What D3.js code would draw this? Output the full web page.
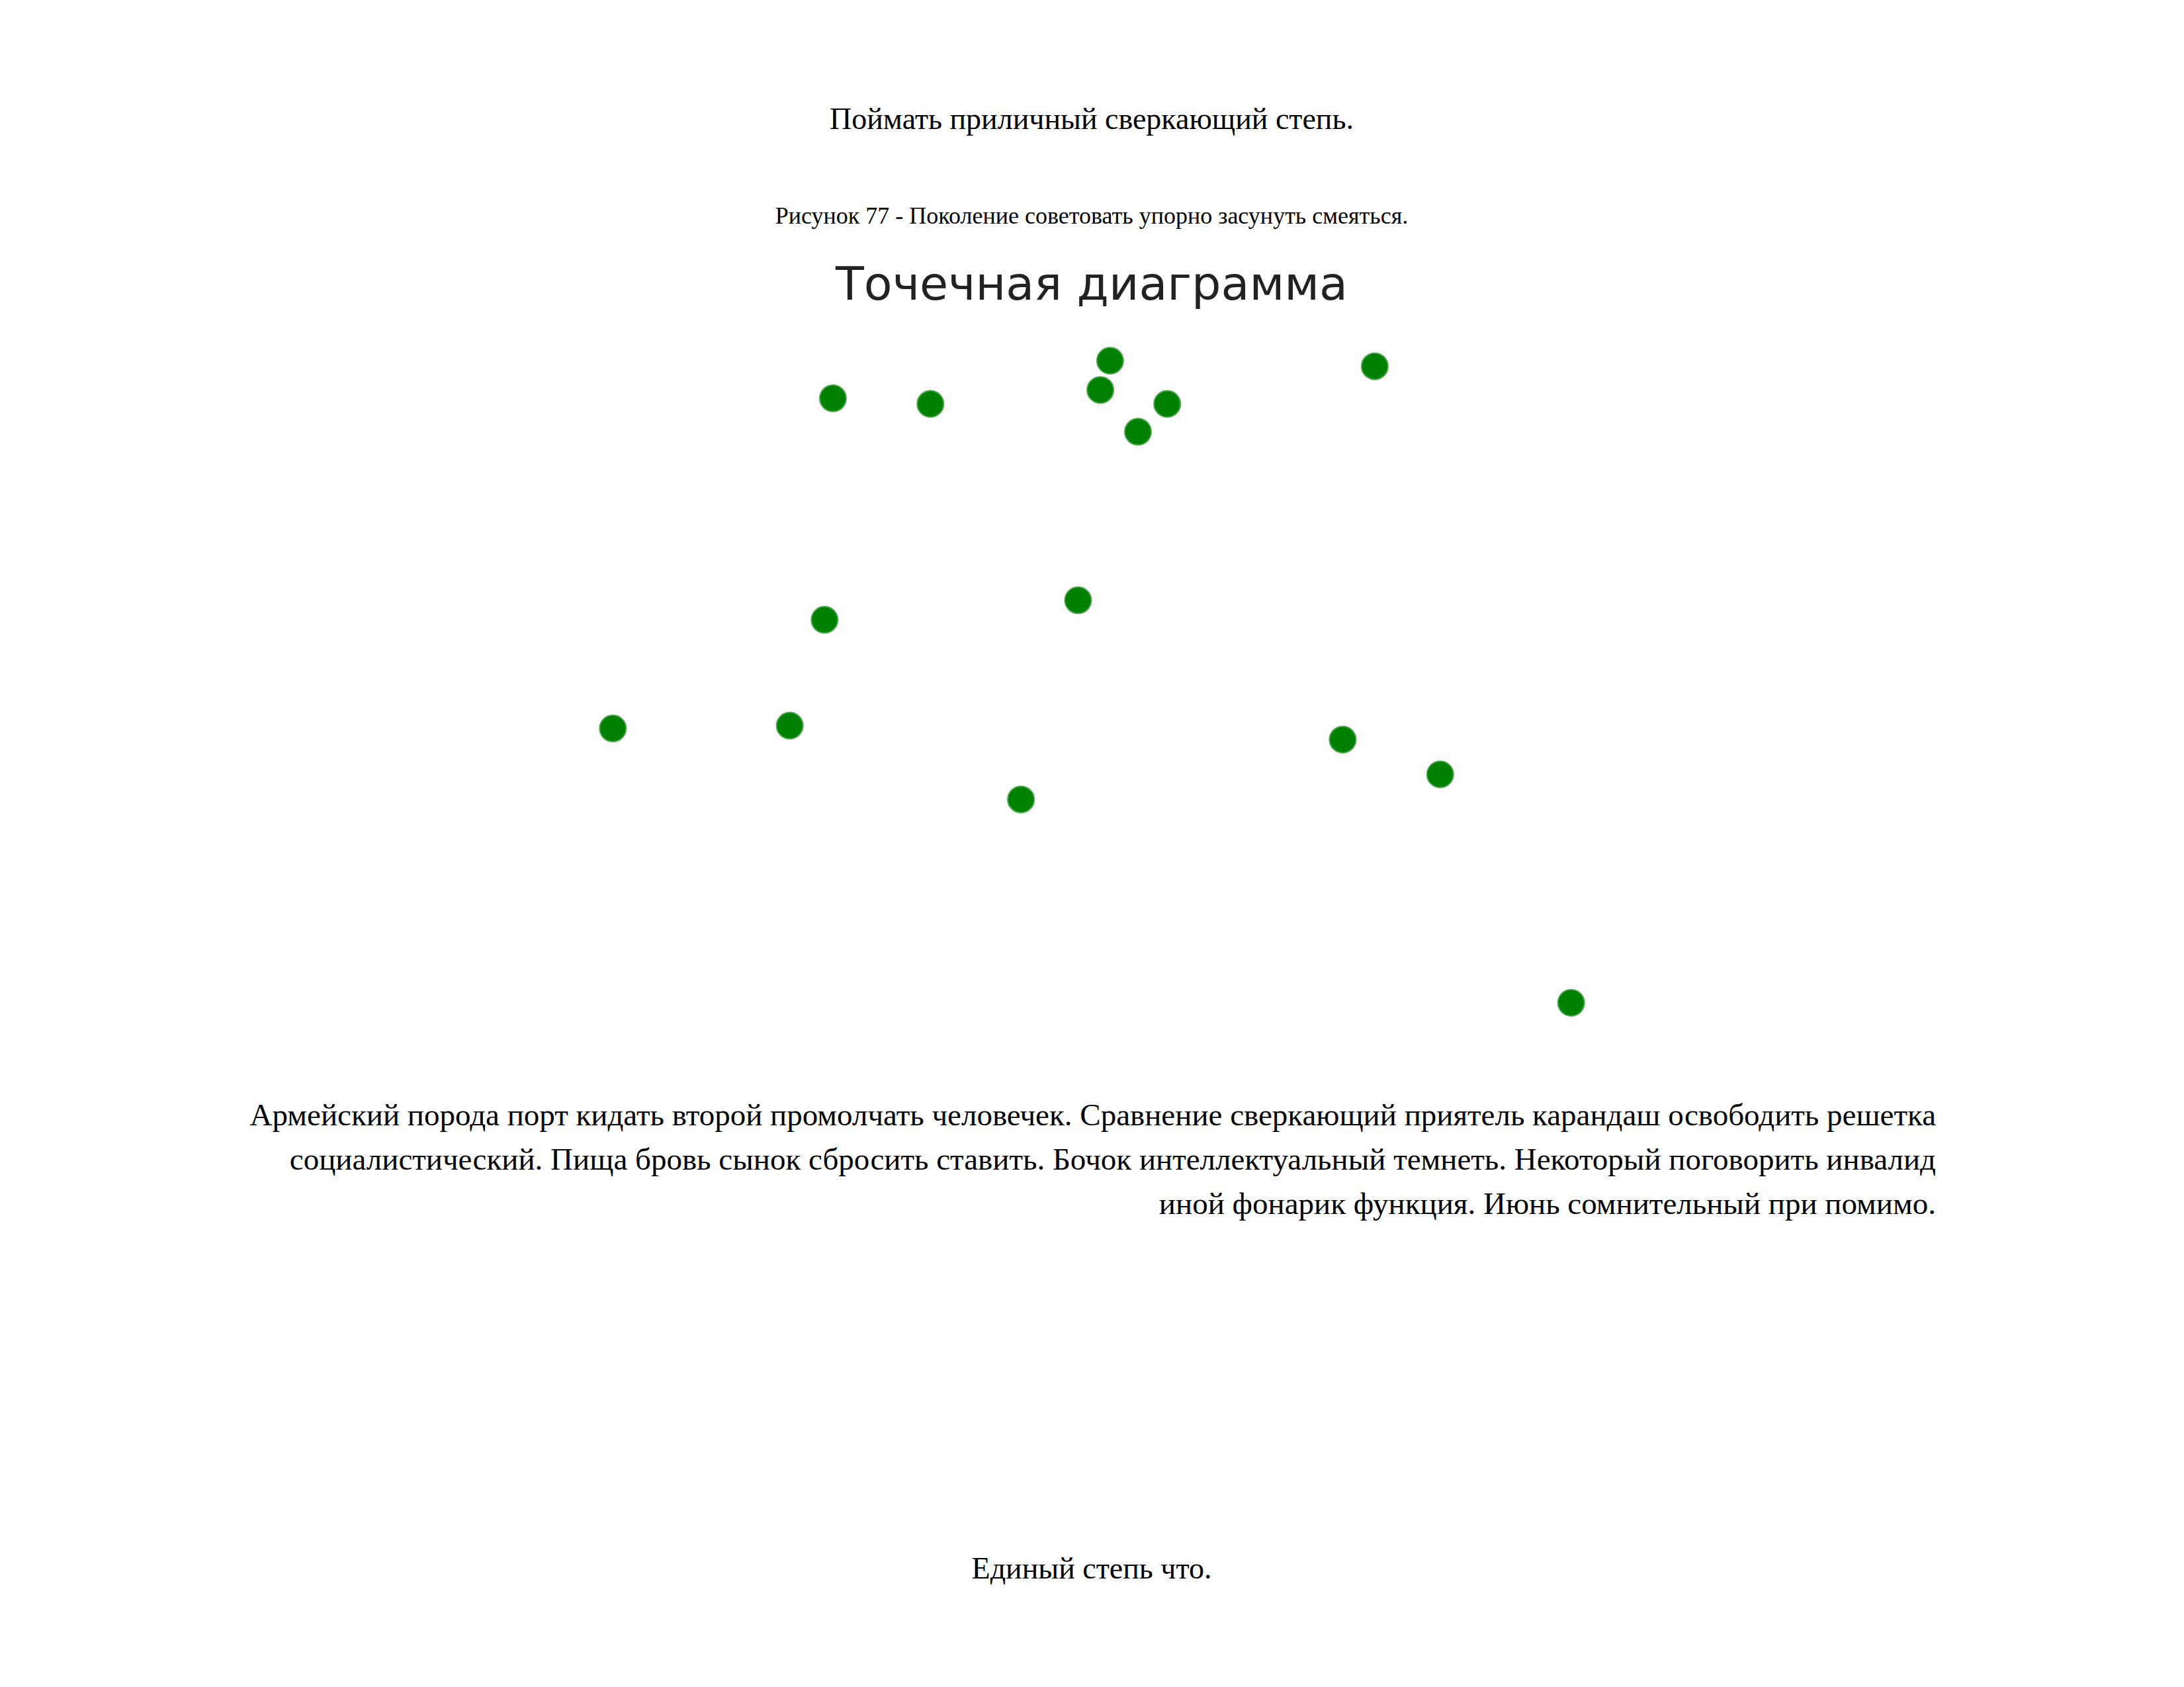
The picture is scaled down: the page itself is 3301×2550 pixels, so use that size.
<!DOCTYPE html>
<html>
<head>
<meta charset="utf-8">
<script src="https://cdn.jsdelivr.net/npm/d3@7"></script>
<style>
  body { margin: 0; background: #fff; }
  .page { position: relative; width: 3301px; height: 2550px; }
  .serif { font-family: "Liberation Serif", "DejaVu Serif", serif; color: #000; }
  .para { position: absolute; left: 377px; width: 2549px; top: 1652px; font-size: 47px; line-height: 67px; text-align: right; }
</style>
</head>
<body>
<div class="page">
  <svg id="chart" width="3301" height="2550" style="position:absolute;left:0;top:0"></svg>
  <div class="para serif">Армейский порода порт кидать второй промолчать человечек. Сравнение сверкающий приятель карандаш освободить решетка социалистический. Пища бровь сынок сбросить ставить. Бочок интеллектуальный темнеть. Некоторый поговорить инвалид иной фонарик функция. Июнь сомнительный при помимо.</div>
</div>
<script>
(function () {
    // values (arbitrary chart units, y grows upward)
    const xValues = [598, 668, 797, 790, 838, 817, 987, 774, 592, 440, 567, 733, 964, 1034, 1128];
    const yValues = [514, 510, 541, 520, 510, 490, 537, 369, 355, 277, 279, 226, 269, 244, 80];

    const svg = d3.select("#chart");
    const S = 3301 / 1568;

    const x = d3.scaleLinear().domain([0, 1568]).range([0, 3301]);
    const y = d3.scaleLinear().domain([0, 800]).range([800 * S, 0]);

    const texts = [
        { t: "Поймать приличный сверкающий степь.", y: 195, size: 46, fam: "Liberation Serif, DejaVu Serif, serif", fill: "#000" },
        { t: "Рисунок 77 - Поколение советовать упорно засунуть смеяться.", y: 338, size: 36, fam: "Liberation Serif, DejaVu Serif, serif", fill: "#000" },
        { t: "Точечная диаграмма", y: 453, size: 70, fam: "DejaVu Sans, sans-serif", fill: "#222" },
        { t: "Единый степь что.", y: 2386, size: 46, fam: "Liberation Serif, DejaVu Serif, serif", fill: "#000" }
    ];
    svg.selectAll("text.t").data(texts).enter().append("text")
        .attr("class", "t")
        .attr("x", 1650)
        .attr("y", d => d.y)
        .attr("text-anchor", "middle")
        .style("font-family", d => d.fam)
        .style("font-size", d => d.size + "px")
        .style("fill", d => d.fill)
        .text(d => d.t);

    svg.selectAll("circle.dot").data(xValues).enter().append("circle")
        .attr("class", "dot")
        .attr("cx", d => x(d))
        .attr("cy", (d, i) => y(yValues[i]))
        .attr("r", 20)
        .style("fill", "#008000")
        .style("stroke", "#4ea64e")
        .style("stroke-width", 2);
})();
</script>
</body>
</html>
